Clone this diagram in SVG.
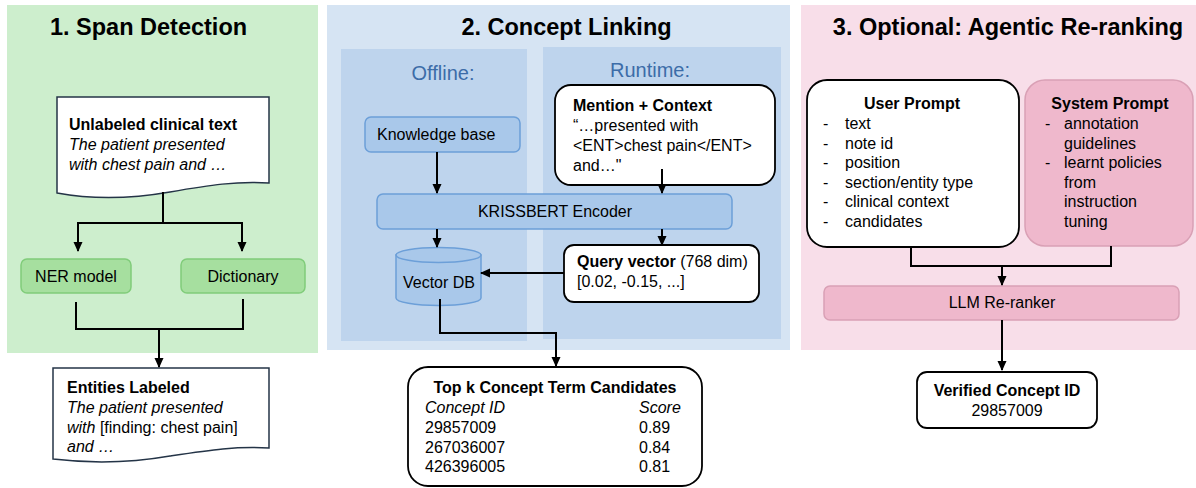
<svg xmlns="http://www.w3.org/2000/svg" width="1196" height="488" viewBox="0 0 1196 488">
<defs>
<marker id="arr" markerWidth="10" markerHeight="10" refX="9" refY="5" orient="auto" markerUnits="userSpaceOnUse"><path d="M0,0.5 L10,5 L0,9.5 Z" fill="#000"/></marker>
<style>
text { font-family: "Liberation Sans", Arial, sans-serif; font-size:16px; fill:#000; }
.title { font-size:23.5px; font-weight:bold; text-anchor:middle; }
.b { font-weight:bold; }
.i { font-style:italic; }
.m { text-anchor:middle; }
.sub { font-size:20px; fill:#3c6ca8; text-anchor:middle; }
.conn { fill:none; stroke:#000; stroke-width:2; }
.doc { fill:#fff; stroke:#243447; stroke-width:1.5; }
.wbox { fill:#fff; stroke:#000; stroke-width:1.8; }
.gbox { fill:#a6df9f; stroke:#80cc7a; stroke-width:1.5; }
.bbox { fill:#a9c8ea; stroke:#6c9fd8; stroke-width:1.5; }
.pbox { fill:#efb8cc; stroke:#d9a0b5; stroke-width:1.5; }
</style>
</defs>

<g id="backgrounds">
<rect x="7" y="5" width="311" height="348" fill="#cdeecd"/>
<rect x="327" y="5" width="463" height="345" fill="#d6e4f3"/>
<rect x="341" y="49" width="186" height="292" fill="#bed4ed"/>
<rect x="543" y="47" width="238" height="292" fill="#bed4ed"/>
<rect x="801" y="5" width="395" height="345" fill="#f8dee9"/>
</g>

<g id="titles">
<text class="title" x="148.5" y="35">1. Span Detection</text>
<text class="title" x="566.5" y="35">2. Concept Linking</text>
<text class="title" x="1008" y="35">3. Optional: Agentic Re-ranking</text>
<text class="sub" x="443" y="80">Offline:</text>
<text class="sub" x="650" y="77">Runtime:</text>
</g>

<g id="unlabeled-text">
<path class="doc" d="M57,97 H269 V183 C236,181 210,185 170,192 C130,199 95,200 57,193 Z"/>
<text class="b" x="69" y="130">Unlabeled clinical text</text>
<text class="i" x="69" y="150">The patient presented</text>
<text class="i" x="69" y="170">with chest pain and …</text>
</g>

<g id="ner-model">
<rect class="gbox" x="21" y="259" width="110" height="34" rx="6"/>
<text class="m" x="76" y="282">NER model</text>
</g>

<g id="dictionary">
<rect class="gbox" x="181" y="259" width="124" height="34" rx="6"/>
<text class="m" x="243" y="282">Dictionary</text>
</g>

<g id="entities-labeled">
<path class="doc" d="M53,368 H269 V448 C236,446 210,450 170,456 C130,463 95,464 53,459 Z"/>
<text class="b" x="67" y="393">Entities Labeled</text>
<text class="i" x="67" y="413">The patient presented</text>
<text x="67" y="433"><tspan class="i">with</tspan> [finding: chest pain]</text>
<text class="i" x="67" y="452">and …</text>
</g>

<g id="knowledge-base">
<rect class="bbox" x="365" y="117" width="155" height="35" rx="6"/>
<text x="377" y="140">Knowledge base</text>
</g>

<g id="mention-context">
<rect class="wbox" x="555" y="85" width="220" height="100" rx="16"/>
<text class="b" x="573" y="111">Mention + Context</text>
<text x="573" y="131">“…presented with</text>
<text x="573" y="151">&lt;ENT&gt;chest pain&lt;/ENT&gt;</text>
<text x="573" y="171">and…"</text>
</g>

<g id="krissbert-encoder">
<rect class="bbox" x="377" y="194" width="355" height="35" rx="6"/>
<text class="m" x="555" y="217">KRISSBERT Encoder</text>
</g>

<g id="vector-db">
<path class="bbox" d="M396,255 V298 A42.5,7.5 0 0 0 481,298 V255 Z"/>
<ellipse class="bbox" cx="438.5" cy="255" rx="42.5" ry="7.5"/>
<text class="m" x="439" y="288">Vector DB</text>
</g>

<g id="query-vector">
<rect class="wbox" x="564" y="245" width="195" height="57" rx="10"/>
<text x="577" y="267"><tspan class="b">Query vector</tspan> (768 dim)</text>
<text x="577" y="287">[0.02, -0.15, ...]</text>
</g>

<g id="top-k-candidates">
<rect class="wbox" x="408" y="367" width="294" height="119" rx="20"/>
<text class="b m" x="555" y="393">Top k Concept Term Candidates</text>
<text class="i" x="425" y="413">Concept ID</text>
<text class="i" x="639" y="413">Score</text>
<text x="425" y="433">29857009</text>
<text x="639" y="433">0.89</text>
<text x="425" y="453">267036007</text>
<text x="639" y="453">0.84</text>
<text x="425" y="472">426396005</text>
<text x="639" y="472">0.81</text>
</g>

<g id="user-prompt">
<rect class="wbox" x="807" y="80" width="212" height="167" rx="20"/>
<text class="b m" x="912" y="109">User Prompt</text>
<text x="823" y="129">-</text><text x="845" y="129">text</text>
<text x="823" y="148.6">-</text><text x="845" y="148.6">note id</text>
<text x="823" y="168.2">-</text><text x="845" y="168.2">position</text>
<text x="823" y="187.8">-</text><text x="845" y="187.8">section/entity type</text>
<text x="823" y="207.4">-</text><text x="845" y="207.4">clinical context</text>
<text x="823" y="227">-</text><text x="845" y="227">candidates</text>
</g>

<g id="system-prompt">
<rect class="pbox" x="1025" y="80" width="168" height="166" rx="20"/>
<text class="b m" x="1110" y="109">System Prompt</text>
<text x="1045" y="129">-</text><text x="1064" y="129">annotation</text>
<text x="1064" y="148.6">guidelines</text>
<text x="1045" y="168.2">-</text><text x="1064" y="168.2">learnt policies</text>
<text x="1064" y="187.8">from</text>
<text x="1064" y="207.4">instruction</text>
<text x="1064" y="227">tuning</text>
</g>

<g id="llm-reranker">
<rect class="pbox" x="824" y="286" width="355" height="34" rx="6"/>
<text class="m" x="1002" y="308">LLM Re-ranker</text>
</g>

<g id="verified-concept">
<rect class="wbox" x="917" y="372" width="180" height="56" rx="10"/>
<text class="b m" x="1007" y="396">Verified Concept ID</text>
<text class="m" x="1007" y="416">29857009</text>
</g>

<g id="connectors">
<path class="conn" d="M163,192 V223 M77,223 H243"/>
<path class="conn" d="M78,223 V251" marker-end="url(#arr)"/>
<path class="conn" d="M242,223 V251" marker-end="url(#arr)"/>
<path class="conn" d="M76,302 V329 H243 V299"/>
<path class="conn" d="M159,329 V367" marker-end="url(#arr)"/>
<path class="conn" d="M437,152 V193" marker-end="url(#arr)"/>
<path class="conn" d="M662,169 V193" marker-end="url(#arr)"/>
<path class="conn" d="M437,229 V247" marker-end="url(#arr)"/>
<path class="conn" d="M662,229 V245" marker-end="url(#arr)"/>
<path class="conn" d="M564,273 H481" marker-end="url(#arr)"/>
<path class="conn" d="M440,299 V333 H556 V366" marker-end="url(#arr)"/>
<path class="conn" d="M911,247 V266 H1111 V246"/>
<path class="conn" d="M1002,266 V285" marker-end="url(#arr)"/>
<path class="conn" d="M1002,320 V370" marker-end="url(#arr)"/>
</g>
</svg>
